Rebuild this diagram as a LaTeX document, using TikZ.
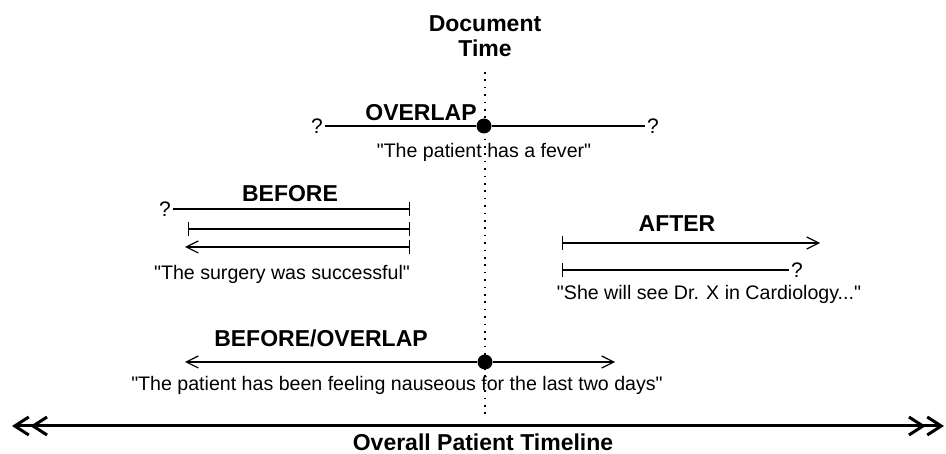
\documentclass[tikz,border=0pt]{standalone}
\usepackage{fontspec}
\setmainfont{Liberation Sans}[Ligatures=TeXOff]
\usetikzlibrary{arrows.meta}
\tikzset{
  endbar/.tip={Bar[width=14pt]},
  endhd/.tip={Straight Barb[length=12pt,width=12pt]},
  bighd/.tip={Straight Barb[length=14pt,width=18pt]Straight Barb[length=14pt,width=18pt]},
}
\begin{document}
\begin{tikzpicture}[x=1pt, y=-1pt, line width=1.2pt,
    lab/.style={font=\fontsize{23}{25}\selectfont\bfseries},
    txt/.style={font=\fontsize{19.6}{22}\selectfont},
    qm/.style={font=\fontsize{21}{23}\selectfont, inner sep=1.5pt},
    evdot/.style={circle, fill, inner sep=0pt, minimum size=15pt},
    dtline/.style={line width=1.6pt, dash pattern=on 1.6pt off 5.8pt}]
    \useasboundingbox (0,0) rectangle (946,454);
    % document time
    \node[lab, align=center] (doc) at (485,36) {Document\\Time};
    \coordinate (dt) at (485,72);
    \coordinate (db) at (485,416);
    \draw[dtline] (dt) -- (db);
    % overlap
    \node[lab, anchor=base] (ovl) at (421,121) {OVERLAP};
    \node[qm, anchor=east] (ovq1) at (325,126) {?};
    \node[qm, anchor=west] (ovq2) at (645,126) {?};
    \node[evdot] (ovd) at (484,126) {};
    \draw (ovq1.east) -- (ovd) -- (ovq2.west);
    \node[txt, anchor=base] (ovtxt) at (484,158) {"The patient has a fever"};
    % before
    \node[lab, anchor=base] (bfl) at (290,202) {BEFORE};
    \node[qm, anchor=east] (bfq) at (173,209) {?};
    \coordinate (bf1) at (410,209);
    \draw[-endbar] (bfq.east) -- (bf1);
    \coordinate (bf2a) at (188,229);
    \coordinate (bf2b) at (410,229);
    \draw[endbar-endbar] (bf2a) -- (bf2b);
    \coordinate (bf3a) at (185,247);
    \coordinate (bf3b) at (410,247);
    \draw[endhd-endbar] (bf3a) -- (bf3b);
    \node[txt, anchor=base] (bftxt) at (282,280) {"The surgery was successful"};
    % after
    \node[lab, anchor=base] (afl) at (677,232) {AFTER};
    \coordinate (af1a) at (562,243);
    \coordinate (af1b) at (820,243);
    \draw[endbar-endhd] (af1a) -- (af1b);
    \node[qm, anchor=west] (afq) at (789,270) {?};
    \coordinate (af2a) at (562,270);
    \draw[endbar-] (af2a) -- (afq.west);
    \node[txt, anchor=base] (aftxt) at (709,300) {"She will see Dr. X in Cardiology..."};
    % before/overlap
    \node[lab, anchor=base] (bol) at (321,347) {BEFORE/OVERLAP};
    \coordinate (boa) at (185,362);
    \coordinate (bob) at (615,362);
    \node[evdot] (bod) at (485,362) {};
    \draw[endhd-] (boa) -- (bod);
    \draw[-endhd] (bod) -- (bob);
    \node[txt, anchor=base] (botxt) at (397,391) {"The patient has been feeling nauseous for the last two days"};
    % overall timeline
    \coordinate (tl) at (12,426);
    \coordinate (tr) at (944,426);
    \draw[line width=3pt, bighd-bighd] (tl) -- (tr);
    \node[lab, anchor=base] (otl) at (483,451) {Overall Patient Timeline};
\end{tikzpicture}
\end{document}
